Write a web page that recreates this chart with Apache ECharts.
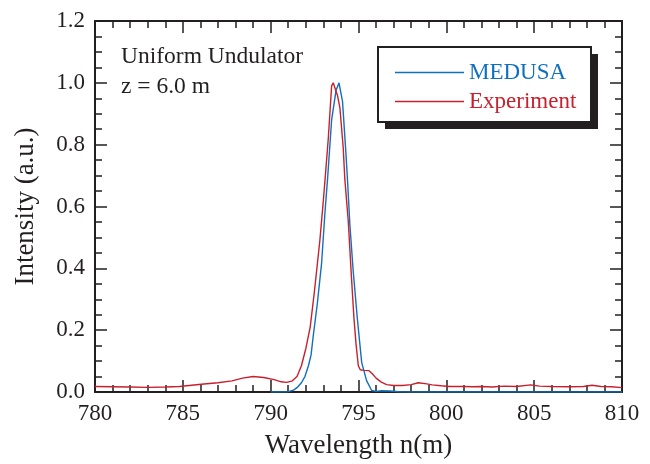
<!DOCTYPE html>
<html>
<head>
<meta charset="utf-8">
<style>
  html, body { margin: 0; padding: 0; background: #fff; }
  #main { width: 650px; height: 464px; }
</style>
<script src="https://cdn.jsdelivr.net/npm/echarts@6/dist/echarts.min.js"></script>
</head>
<body>
<div id="main"></div>
<script>
// MEDUSA simulation
var simWavelength = [790.0, 791.0, 791.3, 791.5, 791.75, 791.95, 792.15, 792.3, 792.42, 792.65, 792.9, 793.09, 793.24, 793.47, 793.72, 793.89, 794.09, 794.28, 794.37, 794.51, 794.7, 794.93, 795.18, 795.46, 795.75, 796.0, 796.3, 796.8, 797.3, 798.0, 800.0, 805.0, 810.0];
var simIntensity = [0, 0.001, 0.006, 0.014, 0.03, 0.05, 0.085, 0.12, 0.18, 0.283, 0.417, 0.58, 0.69, 0.88, 0.975, 1.0, 0.94, 0.776, 0.69, 0.54, 0.39, 0.24, 0.096, 0.037, 0.005, 0.002, 0.004, 0.003, 0.001, 0, 0, 0, 0];

// experiment
var expWavelength = [780.0, 781.0, 782.0, 783.0, 784.0, 784.8, 785.5, 786.2, 787.0, 787.8, 788.4, 789.0, 789.6, 790.2, 790.6, 790.9, 791.2, 791.5, 791.75, 792.0, 792.25, 792.5, 792.8, 793.0, 793.1, 793.28, 793.47, 793.56, 793.66, 793.8, 793.94, 794.13, 794.22, 794.42, 794.6, 794.74, 794.86, 794.99, 795.1, 795.3, 795.6, 795.8, 796.0, 796.3, 796.6, 797.0, 797.5, 798.0, 798.4, 798.8, 799.2, 799.7, 800.2, 801.0, 801.5, 802.0, 802.6, 803.3, 804.0, 804.8, 805.3, 806.0, 807.0, 807.8, 808.3, 808.8, 809.4, 810.0];
var expIntensity = [0.018, 0.017, 0.016, 0.015, 0.016, 0.018, 0.022, 0.026, 0.030, 0.036, 0.045, 0.050, 0.047, 0.040, 0.033, 0.031, 0.035, 0.050, 0.085, 0.14, 0.21, 0.33, 0.49, 0.62, 0.69, 0.82, 0.99, 1.0, 0.998, 0.96, 0.92, 0.79, 0.69, 0.55, 0.37, 0.24, 0.155, 0.085, 0.072, 0.07, 0.069, 0.058, 0.045, 0.032, 0.024, 0.021, 0.021, 0.024, 0.030, 0.027, 0.023, 0.020, 0.018, 0.018, 0.017, 0.018, 0.016, 0.019, 0.018, 0.023, 0.019, 0.018, 0.017, 0.018, 0.022, 0.018, 0.017, 0.014];

var seriesNames = ['MEDUSA', 'Experiment'];
var xTitle = 'Wavelength n(m)';
var yTitle = 'Intensity (a.u.)';
var noteLines = ['Uniform Undulator', 'z = 6.0 m'];

var BLUE = '#1170bd';
var RED = '#c8202e';
var INK = '#231f20';
var FONT = "'Liberation Serif', 'Times New Roman', serif";

function pairs(xs, ys) {
    var out = [];
    for (var i = 0; i < xs.length; i++) out.push([xs[i], ys[i]]);
    return out;
}

function xAxisCfg(pos, labels) {
    return {
        type: 'value', position: pos, min: 780, max: 810, interval: 5,
        name: labels ? xTitle : '', nameLocation: 'middle', nameGap: 40,
        nameTextStyle: { fontFamily: FONT, fontSize: 27, color: INK },
        axisLine: { show: true, onZero: false, lineStyle: { color: INK, width: 2 } },
        axisTick: { show: true, inside: true, length: 12, lineStyle: { color: INK, width: 1.5 } },
        minorTick: { show: true, splitNumber: 5, length: 7, lineStyle: { color: INK, width: 1.5 } },
        axisLabel: { show: labels, margin: 10, fontFamily: FONT, fontSize: 23, color: INK },
        splitLine: { show: false }
    };
}

function yAxisCfg(pos, labels) {
    return {
        type: 'value', position: pos, min: 0, max: 1.2, interval: 0.2,
        name: labels ? yTitle : '', nameLocation: 'middle', nameGap: 56,
        nameTextStyle: { fontFamily: FONT, fontSize: 27, color: INK },
        axisLine: { show: true, onZero: false, lineStyle: { color: INK, width: 2 } },
        axisTick: { show: true, inside: true, length: 12, lineStyle: { color: INK, width: 1.5 } },
        minorTick: { show: true, splitNumber: 4, length: 7, lineStyle: { color: INK, width: 1.5 } },
        axisLabel: {
            show: labels, margin: 10, fontFamily: FONT, fontSize: 23, color: INK,
            formatter: function (v) { return v.toFixed(1); }
        },
        splitLine: { show: false }
    };
}

var myChart = echarts.init(document.getElementById('main'), null, { renderer: 'canvas' });
var option = {
    animation: false,
    backgroundColor: '#fff',
    grid: { left: 95, right: 28, top: 21, bottom: 69 },
    xAxis: [xAxisCfg('bottom', true), xAxisCfg('top', false)],
    yAxis: [yAxisCfg('left', true), yAxisCfg('right', false)],
    legend: {
        orient: 'vertical', left: 390, top: 56, z: 10,
        icon: 'rect', itemWidth: 69, itemHeight: 1.4, itemGap: 6,
        textStyle: { fontFamily: FONT, fontSize: 23, lineHeight: 23 },
        data: [
            { name: seriesNames[0], textStyle: { color: BLUE } },
            { name: seriesNames[1], textStyle: { color: RED } }
        ]
    },
    graphic: [
        { type: 'rect', z: 5, shape: { x: 385, y: 54, width: 213, height: 75 }, style: { fill: INK } },
        { type: 'rect', z: 6, shape: { x: 378, y: 47, width: 213, height: 75 }, style: { fill: '#fff', stroke: INK, lineWidth: 2 } },
        { type: 'text', z: 6, left: 121, top: 45, style: { text: noteLines[0], fontFamily: FONT, fontSize: 23.5, fill: INK } },
        { type: 'text', z: 6, left: 121, top: 75, style: { text: noteLines[1], fontFamily: FONT, fontSize: 23.5, fill: INK } }
    ],
    series: [
        {
            name: seriesNames[0], type: 'line', symbol: 'none',
            xAxisIndex: 0, yAxisIndex: 0,
            lineStyle: { color: BLUE, width: 1.4 }, itemStyle: { color: BLUE },
            data: pairs(simWavelength, simIntensity)
        },
        {
            name: seriesNames[1], type: 'line', symbol: 'none',
            xAxisIndex: 0, yAxisIndex: 0,
            lineStyle: { color: RED, width: 1.4 }, itemStyle: { color: RED },
            data: pairs(expWavelength, expIntensity)
        }
    ]
};
myChart.setOption(option);
</script>
</body>
</html>
